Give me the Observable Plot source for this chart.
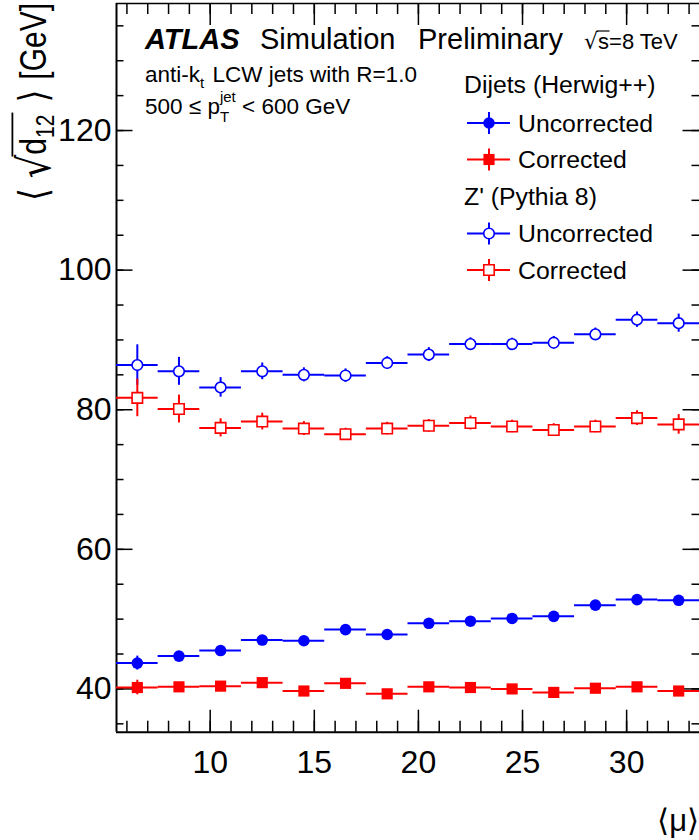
<!DOCTYPE html>
<html><head><meta charset="utf-8">
<script src="https://cdn.jsdelivr.net/npm/d3@7"></script>
<script src="https://cdn.jsdelivr.net/npm/@observablehq/plot@0.6"></script>
<style>html,body{margin:0;padding:0;background:#fff;overflow:hidden}svg{display:block}</style>
</head><body><div id="chart"></div>
<script>
// ---- data ----
const muBins = [6.5, 8.5, 10.5, 12.5, 14.5, 16.5, 18.5, 20.5, 22.5, 24.5, 26.5, 28.5, 30.5, 32.5];
const binHalfWidth = 1;
const dijetUncorrected    = [43.7, 44.7, 45.5, 47.0, 46.9, 48.5, 47.8, 49.4, 49.7, 50.1, 50.4, 52.0, 52.8, 52.7];
const dijetUncorrectedErr = [1.0, 0.5, 0.5, 0.5, 0.5, 0.5, 0.5, 0.5, 0.5, 0.5, 0.5, 0.5, 0.5, 0.5];
const dijetCorrected      = [40.2, 40.3, 40.4, 40.9, 39.7, 40.8, 39.3, 40.3, 40.2, 40.0, 39.5, 40.1, 40.3, 39.7];
const dijetCorrectedErr   = [1.05, 0.5, 0.5, 0.5, 0.5, 0.5, 0.5, 0.5, 0.5, 0.5, 0.5, 0.5, 0.5, 0.5];
const zprimeUncorrected    = [86.4, 85.5, 83.2, 85.5, 85.0, 84.9, 86.7, 87.9, 89.4, 89.4, 89.6, 90.8, 92.9, 92.4];
const zprimeUncorrectedErr = [2.9, 2.0, 1.4, 1.2, 1.0, 0.95, 0.9, 1.0, 0.9, 0.85, 0.9, 0.9, 1.1, 1.3];
const zprimeCorrected      = [81.7, 80.1, 77.4, 78.3, 77.3, 76.5, 77.3, 77.7, 78.1, 77.6, 77.1, 77.6, 78.8, 77.9];
const zprimeCorrectedErr   = [2.7, 2.0, 1.3, 1.2, 1.0, 0.85, 0.9, 0.9, 1.0, 0.9, 0.9, 0.9, 1.05, 1.4];

const xMajorTicks = [10, 15, 20, 25, 30];
const xMinorTicks = d3.range(6, 34);
const yMajorTicks = [40, 60, 80, 100, 120];
const yMinorTicks = d3.range(35, 139, 5);
const xDomain = [5.5, 33.5];
const yDomain = [33.8, 138.2];

const BLUE = "#0000ff", RED = "#ff0000";
const FONT = "'Liberation Sans', Arial, Helvetica, sans-serif";

// ---- layout ----
const W = 699, H = 840;
const mL = 116, mR = 0, mT = 3, mB = H - 731.7;
const plotW = W - mL - mR, plotH = H - mT - mB;

const mk = (vals, errs) => muBins.map((x, i) => ({x, y: vals[i], e: errs[i]}));
const series = [
  {data: mk(dijetUncorrected, dijetUncorrectedErr), color: BLUE, symbol: "circle", open: false, r: 5.8},
  {data: mk(dijetCorrected, dijetCorrectedErr), color: RED, symbol: "square", open: false, r: 6.3},
  {data: mk(zprimeUncorrected, zprimeUncorrectedErr), color: BLUE, symbol: "circle", open: true, r: 5.3},
  {data: mk(zprimeCorrected, zprimeCorrectedErr), color: RED, symbol: "square", open: true, r: 5.9}
];

const dataMarks = series.flatMap(s => [
  Plot.ruleY(s.data, {y: "y", x1: d => d.x - binHalfWidth, x2: d => d.x + binHalfWidth, stroke: s.color, strokeWidth: 2}),
  Plot.ruleX(s.data, {x: "x", y1: d => d.y - d.e, y2: d => d.y + d.e, stroke: s.color, strokeWidth: 2}),
  Plot.dot(s.data, {x: "x", y: "y", symbol: s.symbol, r: s.r,
    fill: s.open ? "white" : s.color, stroke: s.open ? s.color : "none", strokeWidth: s.open ? 1.6 : 0})
]);

const plot = Plot.plot({
  width: W, height: H,
  marginLeft: mL, marginRight: mR, marginTop: mT, marginBottom: mB,
  x: {domain: xDomain, axis: null},
  y: {domain: yDomain, axis: null},
  style: {fontFamily: FONT, background: "white", overflow: "visible"},
  marks: [
    // frame (left, bottom, top)
    Plot.ruleX([xDomain[0]], {stroke: "#000", strokeWidth: 2}),
    Plot.ruleY([yDomain[0]], {stroke: "#000", strokeWidth: 2}),
    Plot.ruleY([yDomain[1]], {stroke: "#000", strokeWidth: 1.5}),
    // bottom ticks
    Plot.ruleX(xMinorTicks, {x: d => d, insetTop: plotH - 11, stroke: "#000", strokeWidth: 1.5}),
    Plot.ruleX(xMajorTicks, {x: d => d, insetTop: plotH - 22, stroke: "#000", strokeWidth: 1.5}),
    // top ticks
    Plot.ruleX(xMinorTicks, {x: d => d, insetBottom: plotH - 11, stroke: "#000", strokeWidth: 1.5}),
    Plot.ruleX(xMajorTicks, {x: d => d, insetBottom: plotH - 22, stroke: "#000", strokeWidth: 1.5}),
    // left ticks
    Plot.ruleY(yMinorTicks, {y: d => d, insetRight: plotW - 7.5, stroke: "#000", strokeWidth: 1.5}),
    Plot.ruleY(yMajorTicks, {y: d => d, insetRight: plotW - 16.5, stroke: "#000", strokeWidth: 1.5}),
    // right ticks
    Plot.ruleY(yMinorTicks, {y: d => d, insetLeft: plotW - 7.5, stroke: "#000", strokeWidth: 1.5}),
    Plot.ruleY(yMajorTicks, {y: d => d, insetLeft: plotW - 16.5, stroke: "#000", strokeWidth: 1.5}),
    // tick labels
    Plot.text(xMajorTicks, {x: d => d, y: () => yDomain[0], text: d => `${d}`, dy: 31, fontSize: 32, fill: "#000"}),
    Plot.text(yMajorTicks, {x: () => xDomain[0], y: d => d, text: d => `${d}`, dx: -5, textAnchor: "end", fontSize: 32, fill: "#000"}),
    ...dataMarks
  ]
});
document.getElementById("chart").appendChild(plot);

// ---- annotations ----
const svg = d3.select(plot);
const ann = svg.append("g").attr("font-family", FONT).attr("fill", "#000").attr("text-anchor", "start");

function runText(parent, x0, y0, pieces) {
  let x = x0;
  const placed = [];
  for (const p of pieces) {
    if (p.gap !== undefined) { x += p.gap; continue; }
    const items = p.stack ? p.stack : [p];
    let adv = 0;
    for (const q of items) {
      const t = parent.append("text").attr("x", x).attr("y", y0 + (q.dy || 0))
        .attr("text-anchor", "start")
        .attr("font-size", q.size).attr("font-family", q.family || FONT)
        .attr("font-weight", q.weight || "normal").attr("font-style", q.style || "normal")
        .attr("xml:space", "preserve").style("white-space", "pre")
        .text(q.t);
      const w = t.node().getComputedTextLength();
      placed.push({x, w, q, y: y0 + (q.dy || 0)});
      adv = Math.max(adv, w);
    }
    x += adv;
  }
  return {x, placed};
}

// ATLAS Simulation Preliminary
runText(ann, 145, 49, [{t: "ATLAS", size: 29, weight: "bold", style: "italic"}]);
runText(ann, 260, 49, [{t: "Simulation", size: 29}]);
runText(ann, 418, 49, [{t: "Preliminary", size: 29}]);
{
  const r = runText(ann, 584, 49, [
    {t: "√", size: 22, family: "'DejaVu Sans', sans-serif"},
    {t: "s", size: 22}, {t: "=8 TeV", size: 22}
  ]);
  const s = r.placed[1], rad = r.placed[0];
  ann.append("line").attr("x1", rad.x + rad.w - 1.5).attr("x2", s.x + s.w + 0.5)
    .attr("y1", 49 - 18).attr("y2", 49 - 18).attr("stroke", "#000").attr("stroke-width", 1.2);
}
// anti-kt
runText(ann, 145, 82, [
  {t: "anti-k", size: 22.5}, {t: "t", size: 15, dy: 6}, {gap: 2},
  {t: " LCW jets with R=1.0", size: 22.5}
]);
// pT range
runText(ann, 145, 114, [
  {t: "500 ", size: 22.5}, {t: "≤", size: 22.5}, {t: " p", size: 22.5},
  {stack: [{t: "jet", size: 15, dy: -12}, {t: "T", size: 15, dy: 8}]},
  {t: " < 600 GeV", size: 22.5}
]);

// legend
const leg = ann.append("g");
runText(leg, 464, 93, [{t: "Dijets (Herwig++)", size: 24.8}]);
runText(leg, 464, 205, [{t: "Z' (Pythia 8)", size: 24.8}]);
const legendRows = [
  {y: 123, s: series[0], label: "Uncorrected"},
  {y: 159.5, s: series[1], label: "Corrected"},
  {y: 233.5, s: series[2], label: "Uncorrected"},
  {y: 270, s: series[3], label: "Corrected"}
];
for (const row of legendRows) {
  const cx = 489;
  leg.append("line").attr("x1", 467).attr("x2", 510).attr("y1", row.y).attr("y2", row.y)
    .attr("stroke", row.s.color).attr("stroke-width", 2);
  leg.append("line").attr("x1", cx).attr("x2", cx).attr("y1", row.y - 11).attr("y2", row.y + 11)
    .attr("stroke", row.s.color).attr("stroke-width", 2);
  const sym = row.s.symbol === "circle" ? d3.symbolCircle : d3.symbolSquare;
  leg.append("path").attr("transform", `translate(${cx},${row.y})`)
    .attr("d", d3.symbol(sym, Math.PI * row.s.r * row.s.r)())
    .attr("fill", row.s.open ? "white" : row.s.color)
    .attr("stroke", row.s.open ? row.s.color : "none").attr("stroke-width", 1.6);
  runText(leg, 518, row.y + 8.5, [{t: row.label, size: 24.8}]);
}

// x-axis title
ann.append("text").attr("x", 699).attr("y", 831).attr("text-anchor", "end")
  .attr("font-size", 31).text("⟨μ⟩");

// y-axis title (rotated)
{
  const g = ann.append("g");
  const r = runText(g, 0, 0, [
    {t: "⟨", size: 33, family: "'DejaVu Sans', sans-serif", dy: 1}, {gap: 10},
    {t: "√", size: 37, family: "'DejaVu Sans', sans-serif", dy: 3},
    {t: "d", size: 30}, {t: "12", size: 21, dy: 7}, {gap: 12},
    {t: "⟩", size: 33, family: "'DejaVu Sans', sans-serif", dy: 1}, {gap: 10},
    {t: "[GeV]", size: 30}
  ]);
  const rad = r.placed[1], sub = r.placed[3];
  g.append("line").attr("x1", rad.x + rad.w - 2).attr("x2", sub.x + sub.w + 2)
    .attr("y1", -28).attr("y2", -28).attr("stroke", "#000").attr("stroke-width", 1.5);
  const total = r.x;
  g.attr("transform", `translate(46, ${3 + total}) rotate(-90) scale(1, 1.2)`);
}
</script>
</body></html>
